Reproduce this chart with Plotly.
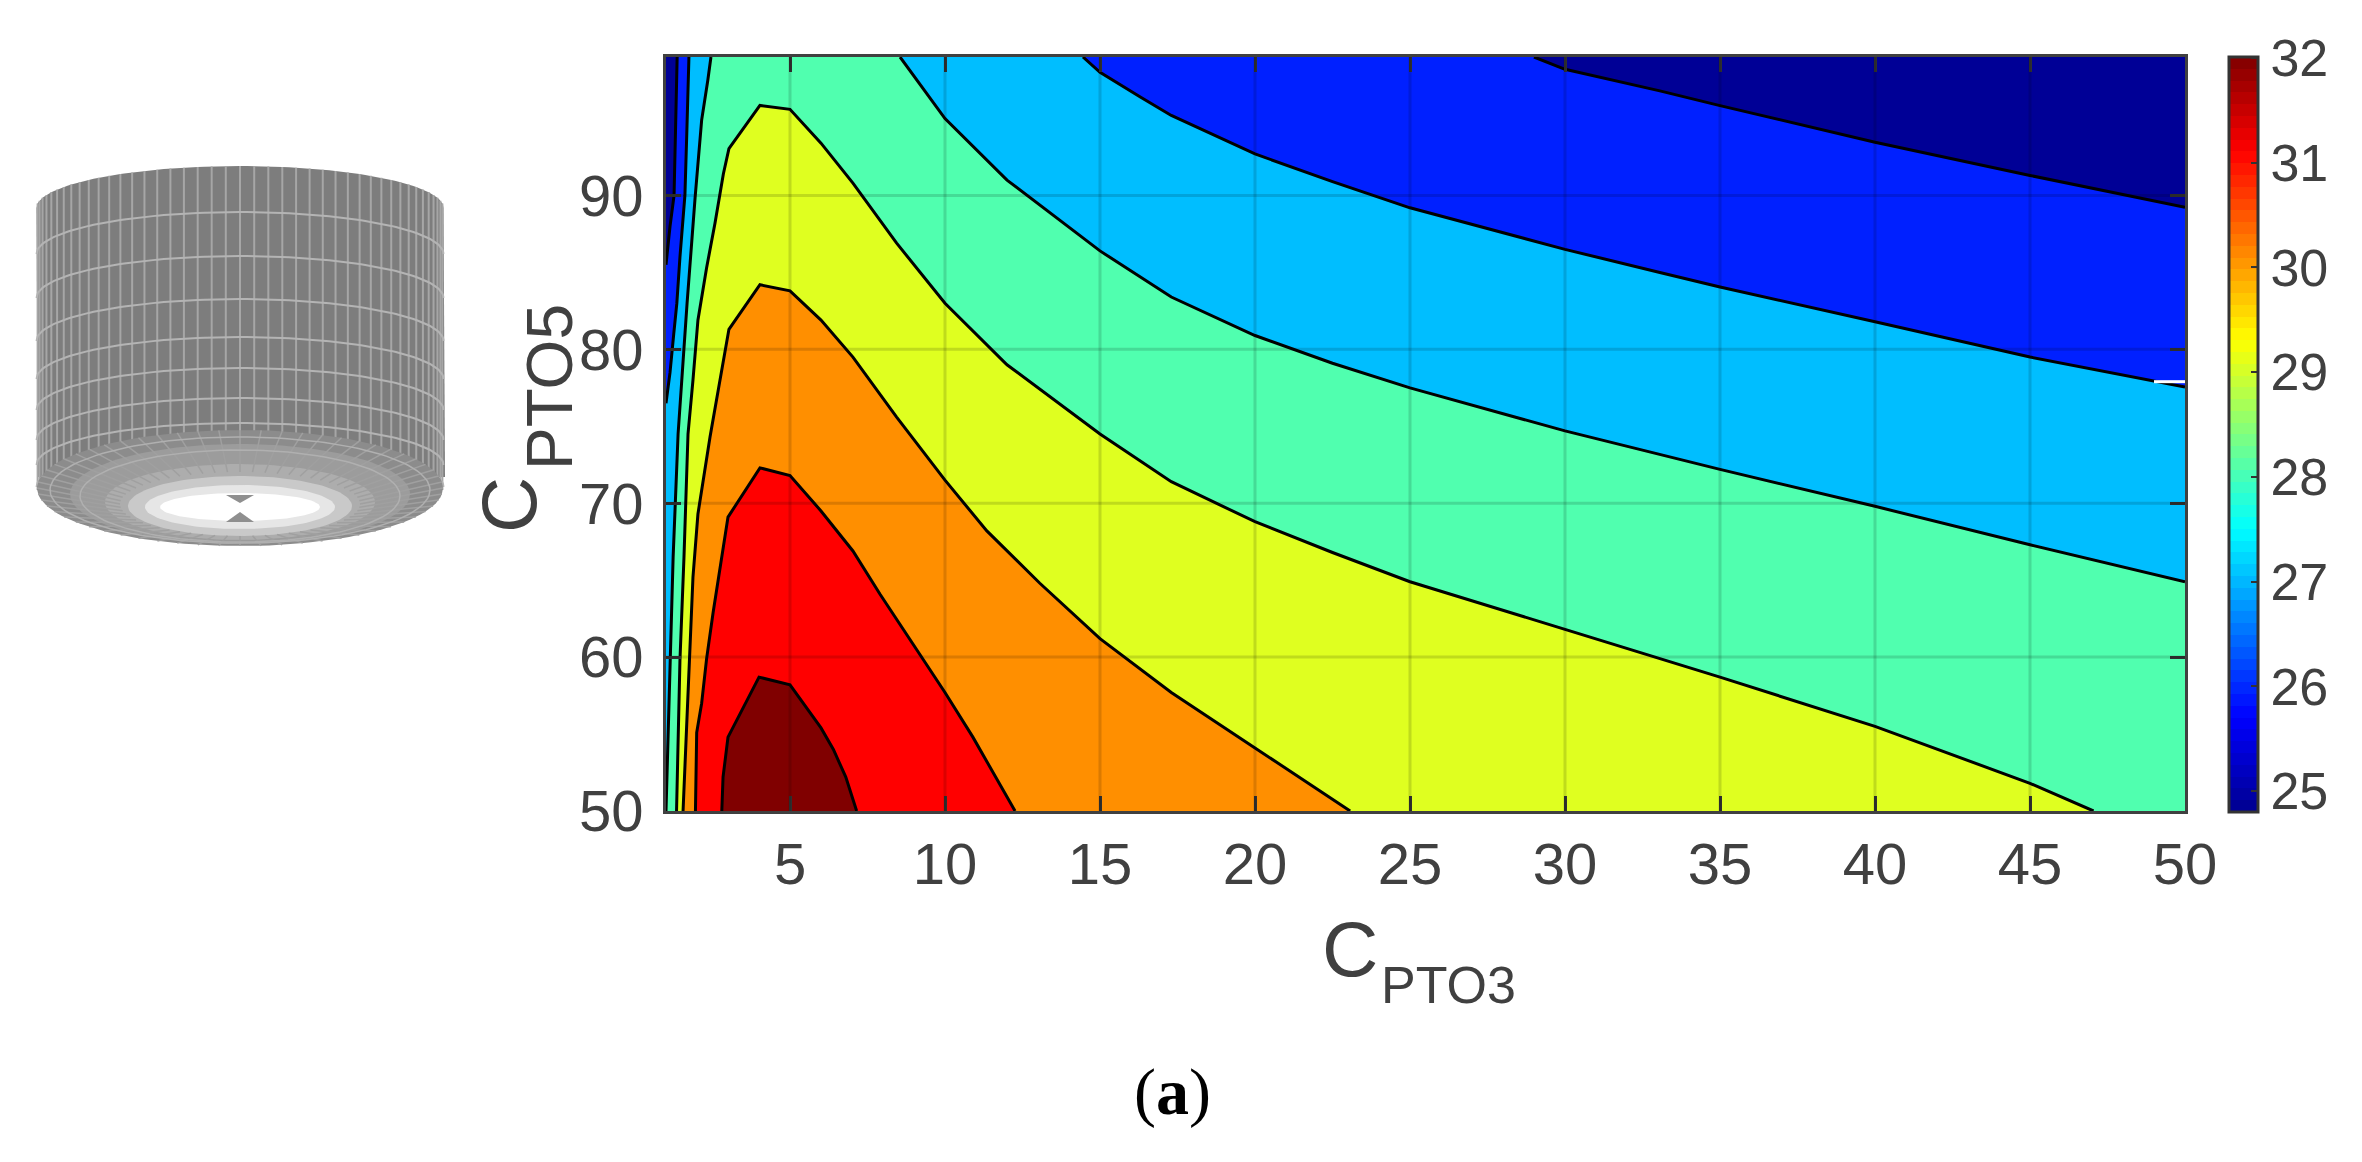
import numpy as np
import plotly.graph_objects as go

# contour lines (C_PTO3, C_PTO5), lowest level first
line1_x = [1.0, 1.13, 1.26, 1.31, 1.36, 29.0, 30.0, 33.06, 35.0, 40.0, 45.0, 50.0]
line1_y = [85.5, 88.0, 90.0, 95.0, 99.0, 99.0, 98.2, 96.8, 95.84, 93.46, 91.3, 89.24]

line2_x = [1.0, 1.13, 1.25, 1.35, 1.45, 1.61, 1.67, 1.74, 14.45, 15.0, 16.3, 17.3, 20.0, 22.5, 25.0, 30.0, 33.06, 35.0, 40.0, 45.0, 50.0]
line2_y = [76.5, 78.5, 81.0, 83.0, 86.0, 90.0, 94.0, 99.0, 99.0, 98.0, 96.4, 95.2, 92.7, 90.9, 89.2, 86.5, 85.0, 84.05, 81.8, 79.5, 77.55]

line3_x = [1.0, 1.1, 1.23, 1.39, 1.68, 1.94, 2.15, 2.35, 2.45, 8.55, 10.0, 12.0, 15.0, 17.3, 20.0, 22.5, 25.0, 30.0, 33.06, 35.0, 40.0, 45.0, 50.0]
line3_y = [50.0, 58.0, 66.5, 74.5, 83.0, 89.9, 94.9, 97.5, 99.0, 99.0, 95.0, 91.0, 86.4, 83.4, 80.9, 79.1, 77.5, 74.7, 73.2, 72.2, 69.8, 67.3, 64.9]

line4_x = [1.34, 1.45, 1.58, 1.71, 1.87, 2.03, 2.31, 2.58, 2.85, 3.03, 4.03, 5.0, 6.0, 7.03, 8.44, 10.0, 12.0, 15.0, 17.3, 20.0, 22.5, 25.0, 30.0, 33.06, 35.0, 40.0, 45.0, 47.05]
line4_y = [50.0, 59.8, 66.5, 74.5, 78.0, 81.9, 85.3, 88.2, 91.4, 93.05, 95.85, 95.6, 93.4, 90.8, 86.9, 83.0, 79.0, 74.5, 71.4, 68.8, 66.8, 64.9, 61.8, 59.9, 58.7, 55.5, 51.8, 50.0]

line5_x = [1.55, 1.67, 1.77, 1.87, 2.03, 2.2, 2.42, 2.68, 2.9, 3.03, 4.03, 5.0, 6.0, 7.03, 8.44, 10.0, 11.35, 13.06, 15.0, 17.3, 20.0, 23.07]
line5_y = [50.0, 55.5, 59.8, 65.2, 69.3, 71.5, 74.3, 77.3, 79.9, 81.3, 84.2, 83.8, 81.9, 79.5, 75.6, 71.5, 68.2, 64.8, 61.2, 57.7, 54.1, 50.0]

line6_x = [1.95, 1.99, 2.15, 2.31, 2.52, 2.8, 3.0, 4.03, 5.0, 6.0, 7.03, 7.9, 9.3, 10.0, 10.9, 12.26]
line6_y = [50.0, 55.1, 57.0, 59.9, 62.9, 66.7, 69.1, 72.3, 71.8, 69.5, 66.9, 64.1, 59.8, 57.7, 54.8, 50.0]

line7_x = [2.8, 2.84, 3.0, 4.0, 5.0, 6.0, 6.4, 6.8, 7.15]
line7_y = [50.0, 52.2, 54.8, 58.7, 58.2, 55.4, 54.0, 52.2, 50.0]

contour_lines = [(line1_x, line1_y), (line2_x, line2_y), (line3_x, line3_y), (line4_x, line4_y),
                 (line5_x, line5_y), (line6_x, line6_y), (line7_x, line7_y)]

# band colours, first one fills the whole plot
band_colors = ['#000096', '#0020ff', '#00beff', '#50ffaf', '#dfff20', '#ff8f00', '#ff0000', '#800000']

x_ticks = [5, 10, 15, 20, 25, 30, 35, 40, 45, 50]
y_ticks = [50, 60, 70, 80, 90]
bar_ticks = [25, 26, 27, 28, 29, 30, 31, 32]

x_range = [1, 50]
y_range = [50, 99]
z_range = [24.8, 32.01]

# the page has an 8px body margin, so keep the figure inside it
PAGE = 8
W, H = 2362 - PAGE, 1162 - 2 * PAGE
FRAME = '#404040'
TEXT = '#404040'
SANS = 'Liberation Sans, Arial, sans-serif'


def fx(px):
    return (px - PAGE) / W


def fy(py):
    return 1 - (py - PAGE) / H


def jet_steps(n=64):
    # matlab jet cut into n flat steps
    anchors = [0, 1 / 8, 3 / 8, 5 / 8, 7 / 8, 1]
    r = [0, 0, 0, 255, 255, 128]
    g = [0, 0, 255, 255, 0, 0]
    b = [143, 255, 255, 0, 0, 0]
    scale = []
    for i in range(n):
        t = (i + 0.5) / n
        c = 'rgb(%d,%d,%d)' % (np.interp(t, anchors, r), np.interp(t, anchors, g), np.interp(t, anchors, b))
        scale.append([i / n, c])
        scale.append([(i + 1) / n, c])
    return scale


fig = go.Figure()

fig.add_trace(go.Scatter(x=[x_range[0], x_range[1], x_range[1], x_range[0]],
                         y=[y_range[0], y_range[0], y_range[1], y_range[1]],
                         mode='lines', fill='toself', fillcolor=band_colors[0],
                         line=dict(width=0), hoverinfo='skip', showlegend=False))

# filled bands, each polygon is everything above one contour level
for (xs, ys), color in zip(contour_lines, band_colors[1:]):
    px, py = list(xs), list(ys)
    if py[-1] > y_range[0]:
        px += [x_range[1], x_range[0]]
        py += [y_range[0], y_range[0]]
    fig.add_trace(go.Scatter(x=px, y=py, mode='lines', fill='toself', fillcolor=color,
                             line=dict(width=0), hoverinfo='skip', showlegend=False))

# contour lines, broken where a line leaves through the top of the plot
for xs, ys in contour_lines:
    px, py = [], []
    for i in range(len(xs)):
        if i > 0 and ys[i] == y_range[1] and ys[i - 1] == y_range[1]:
            px.append(None)
            py.append(None)
        px.append(xs[i])
        py.append(ys[i])
    fig.add_trace(go.Scatter(x=px, y=py, mode='lines', line=dict(color='black', width=3),
                             hoverinfo='skip', showlegend=False))

# little white gap in the source image at the right edge
fig.add_trace(go.Scatter(x=[49.0, 50], y=[77.9, 77.9], mode='lines', line=dict(color='white', width=3),
                         hoverinfo='skip', showlegend=False))

# colorbar
fig.add_trace(go.Scatter(
    x=[None], y=[None], mode='markers', showlegend=False, hoverinfo='skip',
    marker=dict(
        color=[z_range[0]], cmin=z_range[0], cmax=z_range[1], colorscale=jet_steps(), showscale=True,
        colorbar=dict(
            x=fx(2229), xanchor='left', xpad=0, y=fy(812), yanchor='bottom', ypad=0, len=755 / H,
            thickness=29, outlinewidth=3, outlinecolor='#333333',
            tickmode='array', tickvals=bar_ticks, ticks='inside', ticklen=8, tickwidth=2, tickcolor='#333333',
            tickfont=dict(family=SANS, size=52, color=TEXT),
        ),
    ),
))

# --- cylinder mesh on the left, drawn in its own hidden axes (page pixels) ---
cx, left, right = 240, 38, 445
rx = (right - left) / 2
top_sag, top_end, side_end = 42, 208, 477
theta = np.linspace(-np.pi / 2, np.pi / 2, 91)


def ring(x0, y0, a, b, n=120):
    t = np.linspace(0, 2 * np.pi, n)
    return x0 + a * np.cos(t), y0 + b * np.sin(t)


def add_mesh(xs, ys, color, width=2):
    fig.add_trace(go.Scatter(x=xs, y=ys, xaxis='x2', yaxis='y2', mode='lines',
                             line=dict(color=color, width=width), hoverinfo='skip', showlegend=False))


def add_blob(xs, ys, color):
    fig.add_trace(go.Scatter(x=xs, y=ys, xaxis='x2', yaxis='y2', mode='lines', fill='toself', fillcolor=color,
                             line=dict(width=0), hoverinfo='skip', showlegend=False))


top_x = cx + rx * np.sin(theta)
top_y = top_end - top_sag * np.cos(theta)
add_blob(np.r_[top_x, right, left], np.r_[top_y, side_end, side_end], '#7d7d7d')

# vertical mesh lines
vx, vy = [], []
for t in np.radians(np.arange(-84, 85, 4)):
    x = cx + rx * np.sin(t)
    vx += [x, x, None]
    vy += [top_end - top_sag * np.cos(t), 490, None]
add_mesh(vx, vy, '#a6a6a6', 2)

# horizontal mesh rings
hx, hy = [], []
for y_mid in [212, 256, 299, 337, 368, 398, 423, 445]:
    hx += list(top_x) + [None]
    hy += list(y_mid + top_sag * (1 - np.cos(theta))) + [None]
add_mesh(hx, hy, '#b4b4b4', 2)

# underside disc, lighter towards the hole
disc = [(203, 58, 488, '#8c8c8c'), (170, 50, 494, '#9c9c9c'), (135, 38, 502, '#adadad'),
        (112, 30, 506, '#c9c9c9'), (95, 22, 507, '#e6e6e6'), (80, 14, 507, '#ffffff')]
for a, b, y0, color in disc:
    add_blob(*ring(cx, y0, a, b), color)

rx_lines, ry_lines = [], []
for t in np.radians(np.arange(0, 360, 6)):
    rx_lines += [cx + 120 * np.cos(t), cx + 203 * np.cos(t), None]
    ry_lines += [504 + 32 * np.sin(t), 488 + 58 * np.sin(t), None]
add_mesh(rx_lines, ry_lines, '#a0a0a0', 1.5)
for a, b, y0 in [(190, 53, 490), (160, 46, 496)]:
    add_mesh(*ring(cx, y0, a, b), '#b0b0b0', 1.5)

# grey pinch in the middle of the hole
add_blob([cx - 14, cx, cx + 14], [495, 503, 495], '#8f8f8f')
add_blob([cx - 14, cx, cx + 14], [522, 512, 522], '#8f8f8f')

# --- axes and texts ---
fig.update_layout(
    width=W, height=H, margin=dict(l=0, r=0, t=0, b=0, autoexpand=False),
    paper_bgcolor='white', plot_bgcolor='white', showlegend=False,
    xaxis=dict(domain=[fx(666), fx(2185)], range=x_range, tickmode='array', tickvals=x_ticks,
               ticks='inside', ticklen=15, tickwidth=3, tickcolor='#333333', showgrid=False, zeroline=False,
               showline=True, linewidth=3, linecolor=FRAME, mirror='ticks',
               tickfont=dict(family=SANS, size=58, color=TEXT)),
    yaxis=dict(domain=[fy(811), fy(57)], range=y_range, tickmode='array', tickvals=y_ticks,
               ticks='inside', ticklen=15, tickwidth=3, tickcolor='#333333', showgrid=False, zeroline=False,
               showline=True, linewidth=3, linecolor=FRAME, mirror='ticks', ticklabelstandoff=8,
               tickfont=dict(family=SANS, size=58, color=TEXT)),
    xaxis2=dict(domain=[fx(8), fx(480)], range=[8, 480], visible=False, anchor='y2'),
    yaxis2=dict(domain=[fy(600), fy(130)], range=[600, 130], visible=False, anchor='x2'),
)

# matlab grid sits on top of the fill, so shapes instead of axis grid
for v in x_ticks[:-1]:
    fig.add_shape(type='line', x0=v, x1=v, y0=y_range[0], y1=y_range[1], layer='above',
                  line=dict(color='rgba(0,0,0,0.14)', width=3))
for v in y_ticks[1:]:
    fig.add_shape(type='line', x0=x_range[0], x1=x_range[1], y0=v, y1=v, layer='above',
                  line=dict(color='rgba(0,0,0,0.14)', width=3))


def add_text(text, px, py, size, family=SANS, color=TEXT, angle=0):
    fig.add_annotation(text=text, xref='paper', yref='paper', x=fx(px), y=fy(py), xanchor='center', yanchor='middle',
                       showarrow=False, textangle=angle, font=dict(family=family, size=size, color=color))


add_text('C', 1350, 949, 78)
add_text('PTO3', 1448, 985, 52)
add_text('C', 509, 505, 78, angle=-90)
add_text('PTO5', 550, 387, 64, angle=-90)
add_text('(<b>a</b>)', 1172, 1092, 66, family='Liberation Serif, serif', color='black')

fig.write_html("out.html")
